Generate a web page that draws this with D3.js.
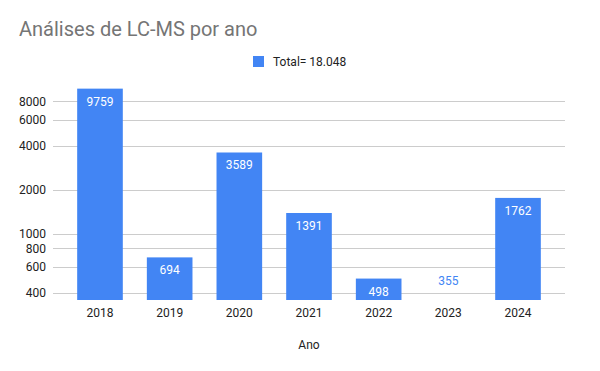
<!DOCTYPE html>
<html>
<head>
<meta charset="utf-8">
<script src="https://cdn.jsdelivr.net/npm/d3@7"></script>
<style>
  body { margin: 0; background: #fff; }
  svg { font-family: Roboto, Arial, sans-serif; }
</style>
</head>
<body>
<script>
// Data
const years = ['2018', '2019', '2020', '2021', '2022', '2023', '2024']
const counts = [9759, 694, 3589, 1391, 498, 355, 1762]
const yTicks = [400, 600, 800, 1000, 2000, 4000, 6000, 8000]
const legendLabel = 'Total= 18.048'

const width = 600
const height = 371
const barColor = '#4285f4'

const svg = d3.select('body')
  .append('svg')
  .attr('width', width)
  .attr('height', height)

// Title
svg.append('text')
  .attr('x', 19)
  .attr('y', 36)
  .attr('font-size', 20)
  .attr('fill', '#757575')
  .text('Análises de LC-MS por ano')

// Legend
svg.append('rect')
  .attr('x', 253)
  .attr('y', 56)
  .attr('width', 11)
  .attr('height', 11)
  .attr('fill', barColor)
svg.append('text')
  .attr('x', 273)
  .attr('y', 66)
  .attr('font-size', 12)
  .attr('fill', '#222')
  .text(legendLabel)

// Scales
const xScale = d3.scaleBand()
  .domain(years)
  .range([53, 565])
  .paddingInner(0.345)
  .paddingOuter(0.347)

const yScale = d3.scaleLog()
  .domain([356, 11000])
  .range([300, 81])

// Grid lines
svg.append('g')
  .selectAll('line')
  .data(yTicks)
  .enter()
  .append('line')
  .attr('x1', 53)
  .attr('x2', 565)
  .attr('y1', d => Math.round(yScale(d)) + 0.5)
  .attr('y2', d => Math.round(yScale(d)) + 0.5)
  .attr('stroke', '#cccccc')

// Y axis
const yAxis = d3.axisLeft(yScale)
  .tickValues(yTicks)
  .tickFormat(d => d.toString())
  .tickSize(0)
  .tickPadding(0)
const yAxisG = svg.append('g')
  .attr('transform', 'translate(46, 0)')
  .call(yAxis)
yAxisG.select('.domain').remove()
yAxisG.selectAll('text')
  .attr('font-size', 12)
  .attr('font-family', 'Roboto, Arial, sans-serif')
  .attr('fill', '#222')

// Bars (values below the axis minimum get no height)
const base = yScale.range()[0]
const barHeight = d => Math.max(0, base - yScale(d))
svg.selectAll('.bar')
  .data(counts)
  .enter()
  .append('rect')
  .attr('class', 'bar')
  .attr('x', (d, i) => xScale(years[i]))
  .attr('y', d => base - barHeight(d))
  .attr('width', xScale.bandwidth())
  .attr('height', barHeight)
  .attr('fill', barColor)

// Bar labels: inside in white, or above the axis in blue when the bar is too short
svg.selectAll('.label')
  .data(counts)
  .enter()
  .append('text')
  .attr('class', 'label')
  .attr('x', (d, i) => xScale(years[i]) + xScale.bandwidth() / 2)
  .attr('y', d => barHeight(d) > 20 ? yScale(d) + 17 : base - 15)
  .attr('text-anchor', 'middle')
  .attr('font-size', 12)
  .attr('fill', d => barHeight(d) > 20 ? '#ffffff' : barColor)
  .text(d => d)

// X axis
const xAxis = d3.axisBottom(xScale)
  .tickSize(0)
  .tickPadding(0)
const xAxisG = svg.append('g')
  .attr('transform', 'translate(0, 308)')
  .call(xAxis)
xAxisG.select('.domain').remove()
xAxisG.selectAll('text')
  .attr('font-size', 12)
  .attr('font-family', 'Roboto, Arial, sans-serif')
  .attr('fill', '#222')

// X axis title
svg.append('text')
  .attr('x', 309)
  .attr('y', 349)
  .attr('text-anchor', 'middle')
  .attr('font-size', 12)
  .attr('fill', '#222')
  .text('Ano')
</script>
</body>
</html>
